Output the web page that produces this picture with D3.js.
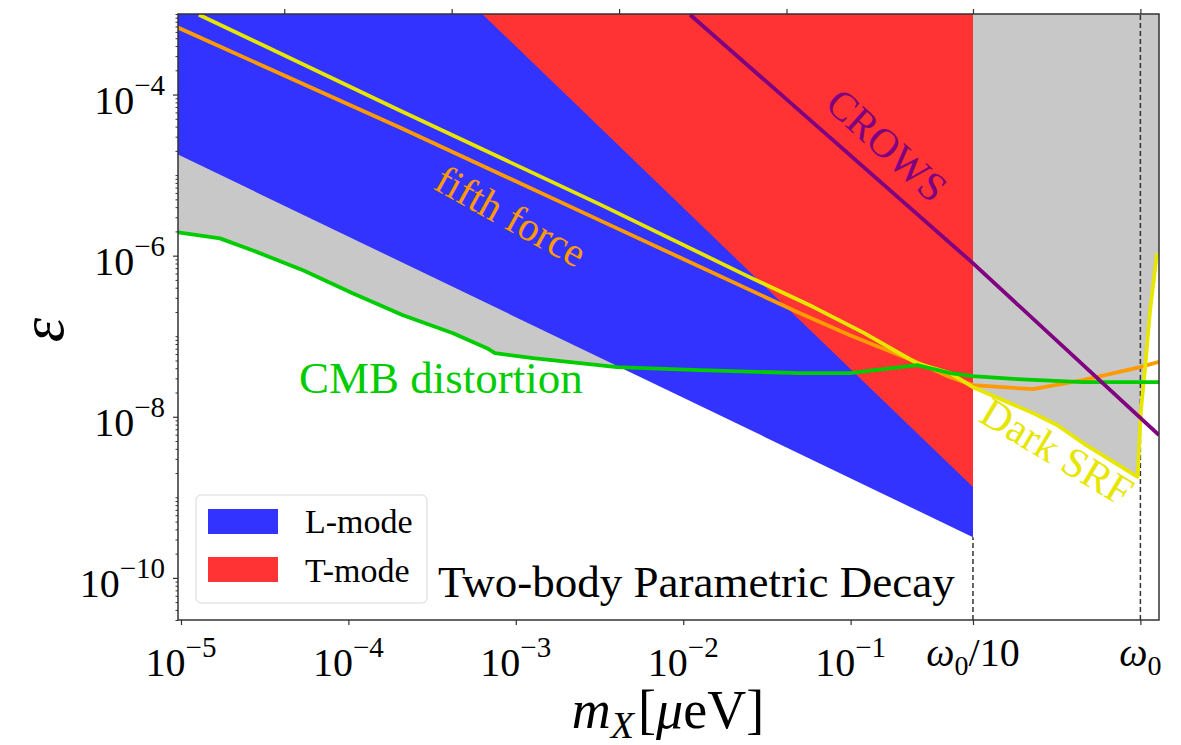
<!DOCTYPE html>
<html>
<head>
<meta charset="utf-8">
<script src="https://cdn.jsdelivr.net/npm/d3@7"></script>
<style>
  body { margin: 0; background: #fff; }
  svg, svg text { font-family: "Liberation Serif", "Times New Roman", "DejaVu Serif", serif; }
</style>
</head>
<body>
<svg id="chart" width="1181" height="745"></svg>
<script>
// ---- data ----
var omega0 = 5.38;                       // µeV
var xDomain = [9.6e-6, 6.95];
var yDomain = [3e-11, 1e-3];

var xTickValues = [1e-5, 1e-4, 1e-3, 1e-2, 1e-1, omega0 / 10, omega0];
var xTickLabels = ["−5", "−4", "−3", "−2", "−1", "ω0/10", "ω0"];
var topTickValues = [4.14e-5, 4.14e-4, 4.14e-3, 4.14e-2, omega0 / 10, omega0];
var yLabelValues = [1e-4, 1e-6, 1e-8, 1e-10];
var yTickLabels = ["−4", "−6", "−8", "−10"];

// L-mode / T-mode lower edges (the regions reach up to the top of the plot)
var lModeMass = [9.6e-6, 0.538];
var lModeEps  = [1.8e-5, 3.2e-10];
var tModeMass = [6.3e-4, 0.538];
var tModeEps  = [1e-3, 1.34e-9];

var cmbMass = [9.6e-6, 1.71e-5, 2.69e-5, 5.36e-5, 1.06e-4, 2.12e-4, 4.22e-4, 6.73e-4, 7.51e-4,
               1.27e-3, 4.03e-3, 1.26e-2, 4.99e-2, 9.91e-2, 0.249, 0.393, 0.538, 0.986, 2.44, 6.95];
var cmbEps  = [1.95e-6, 1.64e-6, 1.16e-6, 6.58e-7, 3.41e-7, 1.82e-7, 1.09e-7, 7.1e-8, 6.15e-8,
               5.33e-8, 4.13e-8, 3.79e-8, 3.48e-8, 3.48e-8, 4.38e-8, 3.48e-8, 3.19e-8, 2.93e-8, 2.69e-8, 2.69e-8];

var srfMass = [1.28e-5, 2.03e-4, 3.18e-3, 2.51e-2, 6.0e-2, 0.12, 0.249, 0.393, 0.538, 1.23, 1.71, 2.44,
               5.18, 5.42, 5.74, 6.15, 6.76];
var srfEps  = [9.8e-4, 6.34e-5, 4.33e-6, 5.38e-7, 2.3e-7, 1.1e-7, 4.62e-8, 3.48e-8, 2.33e-8, 1.11e-8, 7.89e-9, 4.72e-9,
               1.8e-9, 1.2e-8, 4e-8, 2.1e-7, 1.07e-6];

var fifthMass = [9.6e-6, 2.03e-4, 3.18e-3, 4.99e-2, 9.91e-2, 0.249, 0.393, 0.538, 1.23, 2.44, 5.36, 6.95];
var fifthEps  = [6.78e-4, 3.9e-5, 2.74e-6, 1.93e-7, 1.03e-7, 4.76e-8, 3.1e-8, 2.47e-8, 2.2e-8, 2.85e-8, 4.13e-8, 4.8e-8];

var crowsMass = [1.1e-2, 0.531, 6.95];
var crowsEps  = [9.8e-4, 8.26e-7, 5.93e-9];

// ---- drawing ----
var X0 = 178, X1 = 1159, Y0 = 14, Y1 = 620;
var SERIF = "Liberation Serif, DejaVu Serif, serif";
var svg = d3.select("#chart");

var x = d3.scaleLog().domain(xDomain).range([X0, X1]);
var y = d3.scaleLog().domain(yDomain).range([Y1, Y0]);

function pts(ms, es) { return ms.map(function(m, i) { return [m, es[i]]; }); }
var line = d3.line().x(function(d) { return x(d[0]); }).y(function(d) { return y(d[1]); });

svg.append("clipPath").attr("id", "plotclip")
  .append("rect").attr("x", X0).attr("y", Y0).attr("width", X1 - X0).attr("height", Y1 - Y0);

var plot = svg.append("g").attr("clip-path", "url(#plotclip)");
var epsTop = yDomain[1];

// grey: excluded by existing bounds
var grayPts = [[xDomain[0], epsTop]]
  .concat(pts(cmbMass, cmbEps).filter(function(d) { return d[0] <= omega0 / 10 + 1e-9; }))
  .concat(pts(srfMass, srfEps).filter(function(d) { return d[0] >= omega0 / 10 - 1e-9; }))
  .concat([[xDomain[1], srfEps[srfEps.length - 1]], [xDomain[1], epsTop]]);
plot.append("path").attr("d", line(grayPts) + "Z").attr("fill", "#c8c8c8");

// dashed guides
plot.append("line")
  .attr("x1", x(omega0)).attr("x2", x(omega0)).attr("y1", Y1).attr("y2", Y0)
  .attr("stroke", "#333").attr("stroke-width", 1.5).attr("stroke-dasharray", "5,3");
plot.append("line")
  .attr("x1", x(omega0 / 10)).attr("x2", x(omega0 / 10)).attr("y1", Y1).attr("y2", y(lModeEps[1]))
  .attr("stroke", "#333").attr("stroke-width", 1.5).attr("stroke-dasharray", "5,3");

// L-mode (blue) and T-mode (red)
var lPts = [[lModeMass[0], epsTop]].concat(pts(lModeMass, lModeEps)).concat([[lModeMass[1], epsTop]]);
plot.append("path").attr("d", line(lPts) + "Z").attr("fill", "#3333ff");
var tPts = pts(tModeMass, tModeEps).concat([[tModeMass[1], epsTop]]);
plot.append("path").attr("d", line(tPts) + "Z").attr("fill", "#ff3333");

// constraint curves
function curve(ms, es, col) {
  plot.append("path").attr("d", line(pts(ms, es)))
    .attr("fill", "none").attr("stroke", col).attr("stroke-width", 3.8)
    .attr("stroke-linejoin", "round");
}
curve(fifthMass, fifthEps, "#ff9a00");
curve(srfMass, srfEps, "#e6e600");
curve(cmbMass, cmbEps, "#00cc00");
curve(crowsMass, crowsEps, "#800080");

function txt(sel) { return sel.append("text").attr("font-family", SERIF); }

// curve labels
function label(s, cx, cy, ang, col, size) {
  txt(svg).attr("transform", "translate(" + cx + "," + cy + ") rotate(" + ang + ")")
    .attr("text-anchor", "middle").attr("dominant-baseline", "central")
    .attr("fill", col).attr("font-size", size).text(s);
}
label("fifth force", 511, 216, 29, "#ff9a00", 41);
label("CROWS", 887, 145, 42, "#800080", 41);
label("Dark SRF", 1057, 452, 31, "#e6e600", 42);
txt(svg).attr("x", 299).attr("y", 393).attr("fill", "#00cc00")
  .attr("font-size", 45).text("CMB distortion");
txt(svg).attr("x", 438).attr("y", 597).attr("fill", "#000")
  .attr("font-size", 45).text("Two-body Parametric Decay");

// ---- axes ----
var axisCol = "#333";
var yMinor = y.ticks(20).filter(function(v) { return yLabelValues.indexOf(v) < 0; });
svg.append("g").attr("transform", "translate(" + X0 + ",0)")
  .call(d3.axisLeft(y).tickValues(yMinor).tickSize(2.5).tickFormat(""))
  .call(function(g) { g.select(".domain").remove(); g.selectAll("line").attr("stroke", axisCol); });
svg.append("g").attr("transform", "translate(" + X0 + ",0)")
  .call(d3.axisLeft(y).tickValues(yLabelValues).tickSize(5).tickFormat(""))
  .call(function(g) { g.select(".domain").remove(); g.selectAll("line").attr("stroke", axisCol).attr("stroke-width", 1.2); });

yLabelValues.forEach(function(v, i) {
  var t = txt(svg).attr("x", 165).attr("y", y(v) + 19)
    .attr("text-anchor", "end").attr("font-size", 40);
  t.append("tspan").text("10");
  t.append("tspan").attr("font-size", 29).attr("dy", -19).text(yTickLabels[i]);
});

svg.append("g").attr("transform", "translate(0," + Y1 + ")")
  .call(d3.axisBottom(x).tickValues(xTickValues).tickSize(5).tickFormat(""))
  .call(function(g) { g.select(".domain").remove(); g.selectAll("line").attr("stroke", axisCol).attr("stroke-width", 1.2); });
svg.append("g").attr("transform", "translate(0," + Y0 + ")")
  .call(d3.axisTop(x).tickValues(topTickValues).tickSize(5).tickFormat(""))
  .call(function(g) { g.select(".domain").remove(); g.selectAll("line").attr("stroke", axisCol).attr("stroke-width", 1.2); });

xTickValues.forEach(function(v, i) {
  var lab = xTickLabels[i];
  var t = txt(svg).attr("x", x(v)).attr("text-anchor", "middle").attr("font-size", 40);
  if (lab.charAt(0) === "ω") {
    t.attr("y", 666);
    t.append("tspan").attr("font-style", "italic").text("ω");
    t.append("tspan").attr("font-size", 28).attr("dy", 9).text("0");
    if (lab.length > 2) t.append("tspan").attr("dy", -9).text(lab.slice(2));
  } else {
    t.attr("y", 676);
    t.append("tspan").text("10");
    t.append("tspan").attr("font-size", 29).attr("dy", -19).text(lab);
  }
});

// axis titles
var xl = txt(svg).attr("x", 668).attr("y", 728).attr("text-anchor", "middle").attr("font-size", 54);
xl.append("tspan").attr("font-style", "italic").text("m");
xl.append("tspan").attr("font-style", "italic").attr("font-size", 38).attr("dy", 10).text("X");
xl.append("tspan").attr("dy", -10).attr("dx", 4).text("[");
xl.append("tspan").attr("font-style", "italic").text("μ");
xl.append("tspan").text("eV]");

txt(svg).attr("transform", "translate(42,330) rotate(-90)")
  .attr("text-anchor", "middle").attr("dominant-baseline", "central")
  .attr("font-size", 62).attr("font-style", "italic").text("ε");

// frame
svg.append("rect").attr("x", X0).attr("y", Y0).attr("width", X1 - X0).attr("height", Y1 - Y0)
  .attr("fill", "none").attr("stroke", axisCol).attr("stroke-width", 1.5);

// legend
var legend = svg.append("g");
legend.append("rect").attr("x", 196).attr("y", 495).attr("width", 231).attr("height", 108)
  .attr("rx", 5).attr("fill", "#fff").attr("fill-opacity", 0.85).attr("stroke", "#d8d8d8");
[["L-mode", "#3333ff"], ["T-mode", "#ff3333"]].forEach(function(d, i) {
  legend.append("rect").attr("x", 208).attr("y", 509 + i * 48).attr("width", 70).attr("height", 25).attr("fill", d[1]);
  txt(legend).attr("x", 305).attr("y", 533 + i * 49).attr("font-size", 34).text(d[0]);
});
</script>
</body>
</html>
